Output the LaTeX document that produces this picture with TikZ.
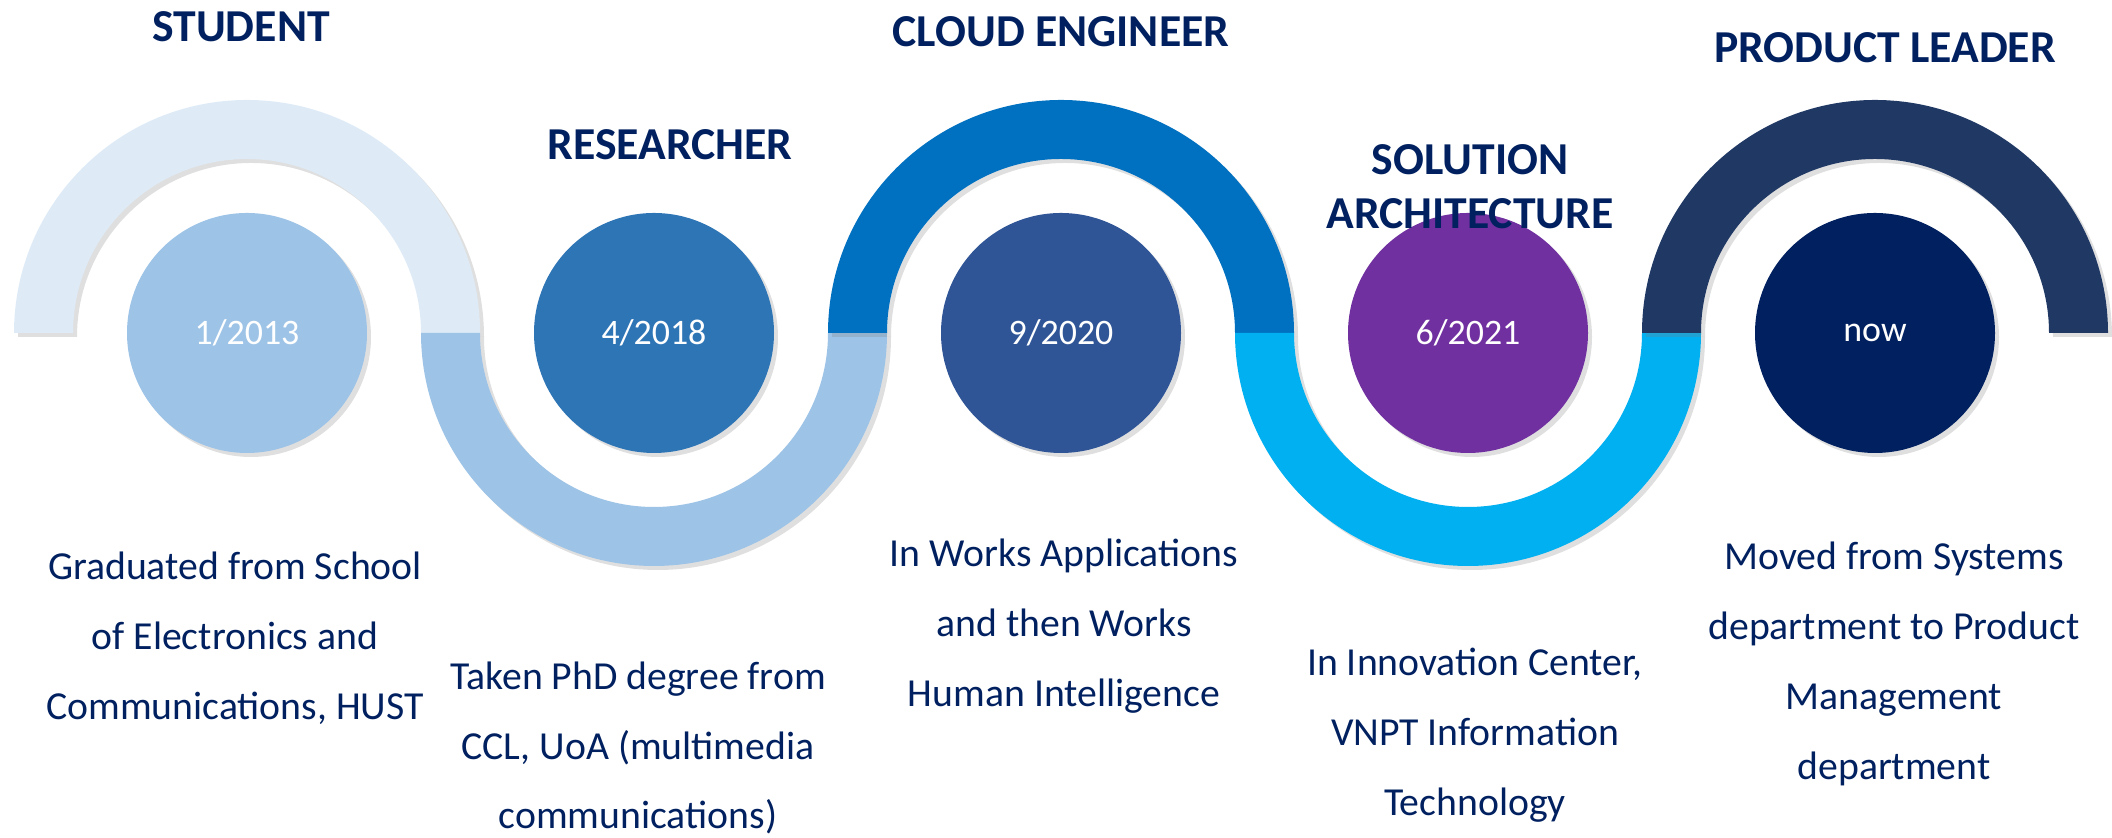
\documentclass[tikz,border=0pt]{standalone}
\usepackage{fontspec}
\setmainfont{Carlito}
\usetikzlibrary{shadows}
\definecolor{navy}{HTML}{002060}
\definecolor{bandA}{HTML}{DEEBF7}
\definecolor{dotA}{HTML}{9DC3E6}
\definecolor{bandB}{HTML}{9DC3E6}
\definecolor{dotB}{HTML}{2E75B6}
\definecolor{bandC}{HTML}{0070C0}
\definecolor{dotC}{HTML}{2F5597}
\definecolor{bandD}{HTML}{00B0F0}
\definecolor{dotD}{HTML}{7030A0}
\definecolor{bandE}{HTML}{203864}
\definecolor{dotE}{HTML}{002060}

\begin{document}
\begin{tikzpicture}[
    shade/.style={drop shadow={opacity=0.25,shadow xshift=0.04cm,shadow yshift=-0.04cm}},
    date/.style={circle,shade,minimum size=2.4cm,inner sep=0pt,text=white,font=\fontsize{10.2}{12}\selectfont},
    title/.style={text=navy,font=\fontsize{13}{15.4}\selectfont\bfseries,align=center},
    desc/.style={text=navy,font=\fontsize{11.3}{19.9}\selectfont,align=center}
]
    \useasboundingbox (0,0) rectangle (21.12,8.38);
    % the wave
    \fill[shade,bandA] (0.14,5.05) arc[start angle=180,end angle=0,radius=2.33] -- (4.21,5.05) arc[start angle=0,end angle=180,radius=1.74] -- cycle;
    \fill[shade,bandB] (4.21,5.05) arc[start angle=180,end angle=360,radius=2.33] -- (8.28,5.05) arc[start angle=360,end angle=180,radius=1.74] -- cycle;
    \fill[shade,bandC] (8.28,5.05) arc[start angle=180,end angle=0,radius=2.33] -- (12.35,5.05) arc[start angle=0,end angle=180,radius=1.74] -- cycle;
    \fill[shade,bandD] (12.35,5.05) arc[start angle=180,end angle=360,radius=2.33] -- (16.42,5.05) arc[start angle=360,end angle=180,radius=1.74] -- cycle;
    \fill[shade,bandE] (16.42,5.05) arc[start angle=180,end angle=0,radius=2.33] -- (20.49,5.05) arc[start angle=0,end angle=180,radius=1.74] -- cycle;
    % dates
    \node[date,fill=dotA] (d2013) at (2.47,5.05) {1/2013};
    \node[date,fill=dotB] (d2018) at (6.54,5.05) {4/2018};
    \node[date,fill=dotC] (d2020) at (10.61,5.05) {9/2020};
    \node[date,fill=dotD] (d2021) at (14.68,5.05) {6/2021};
    \node[date,fill=dotE] (dnow) at (18.75,5.05) {now};
    % roles
    \node[title] (student) at (2.41,8.11) {STUDENT};
    \node[title] (researcher) at (6.70,6.93) {RESEARCHER};
    \node[title] (cloud) at (10.61,8.06) {CLOUD ENGINEER};
    \node[title] (solution) at (14.70,6.51) {SOLUTION\\ARCHITECTURE};
    \node[title] (product) at (18.85,7.90) {PRODUCT LEADER};
    % what happened
    \node[desc] (grad) at (2.35,2.00) {Graduated from School\\of Electronics and\\Communications, HUST};
    \node[desc] (phd) at (6.38,0.90) {Taken PhD degree from\\CCL, UoA (multimedia\\communications)};
    \node[desc] (works) at (10.64,2.12) {In Works Applications\\and then Works\\Human Intelligence};
    \node[desc] (vnpt) at (14.75,1.03) {In Innovation Center,\\VNPT Information\\Technology};
    \node[desc] (moved) at (18.94,1.74) {Moved from Systems\\department to Product\\Management\\department};
\end{tikzpicture}
\end{document}
